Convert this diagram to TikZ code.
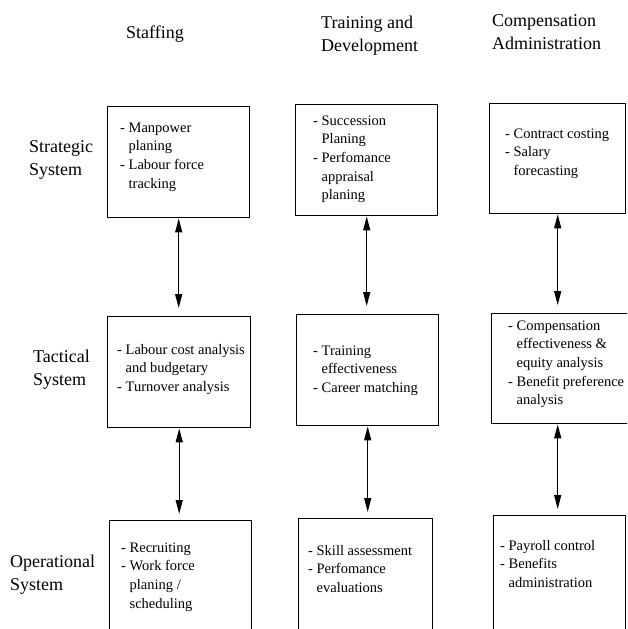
\documentclass[tikz,border=0pt]{standalone}
\usepackage{fontspec}
\setmainfont{Liberation Serif}
\usetikzlibrary{arrows.meta}
\newcommand{\txtlines}[1]{\vtop{\halign{##\hfil\cr #1\crcr}}}
\newcommand{\ind}{\hphantom{- }}
\begin{document}
\begin{tikzpicture}[x=1pt,y=-1pt,
  box/.style={draw, line width=1.4pt, inner sep=0, anchor=north west},
  hdr/.style={font=\fontsize{18}{23.5}\selectfont, anchor=base west, inner sep=0},
  item/.style={font=\fontsize{14.5}{18.7}\selectfont, anchor=base west, inner sep=0},
  link/.style={line width=1.3pt, {Triangle[length=14pt,width=7pt]}-{Triangle[length=14pt,width=7pt]}}]
\useasboundingbox (0,0) rectangle (627,629);
\clip (0,0) rectangle (627,629);

% column headers
\node[hdr] (h1) at (126,38) {Staffing};
\node[hdr] (h2) at (321,28) {\txtlines{Training and\cr Development}};
\node[hdr] (h3) at (492,26) {\txtlines{Compensation\cr Administration}};

% row labels
\node[hdr] (r1) at (29,152) {\txtlines{Strategic\cr System}};
\node[hdr] (r2) at (33,362) {\txtlines{Tactical\cr System}};
\node[hdr] (r3) at (10,567) {\txtlines{Operational\cr System}};

% boxes
\node[box, minimum width=142pt, minimum height=111pt] (s1) at (107,106) {};
\node[box, minimum width=142pt, minimum height=111pt] (s2) at (295,104) {};
\node[box, minimum width=136pt, minimum height=110pt] (s3) at (489,103) {};
\node[box, minimum width=143pt, minimum height=111pt] (t1) at (107,316) {};
\node[box, minimum width=142pt, minimum height=111pt] (t2) at (296,314) {};
\node[box, minimum width=141pt, minimum height=110pt] (t3) at (491,313) {};
\node[box, minimum width=142pt, minimum height=130pt] (o1) at (109,520) {};
\node[box, minimum width=134pt, minimum height=130pt] (o2) at (298,518) {};
\node[box, minimum width=132pt, minimum height=130pt] (o3) at (493,515) {};

% box texts
\node[item] (ts1) at (120,132) {\txtlines{- Manpower\cr\ind planing\cr- Labour force\cr\ind tracking}};
\node[item] (ts2) at (313,125) {\txtlines{- Succession\cr\ind Planing\cr- Perfomance\cr\ind appraisal\cr\ind planing}};
\node[item] (ts3) at (505,138) {\txtlines{- Contract costing\cr- Salary\cr\ind forecasting}};
\node[item] (tt1) at (117,354) {\txtlines{- Labour cost analysis\cr\ind and budgetary\cr- Turnover analysis}};
\node[item] (tt2) at (313,355) {\txtlines{- Training\cr\ind effectiveness\cr- Career matching}};
\node[item] (tt3) at (508,330) {\txtlines{- Compensation\cr\ind effectiveness \&\cr\ind equity analysis\cr- Benefit preference\cr\ind analysis}};
\node[item] (to1) at (121,552) {\txtlines{- Recruiting\cr- Work force\cr\ind planing /\cr\ind scheduling}};
\node[item] (to2) at (308,555) {\txtlines{- Skill assessment\cr- Perfomance\cr\ind evaluations}};
\node[item] (to3) at (500,550) {\txtlines{- Payroll control\cr- Benefits\cr\ind administration}};

% connectors
\draw[link] (s1.south) -- ([yshift=8pt]s1.south |- t1.north);
\draw[link] (s2.south) -- ([yshift=8pt]s2.south |- t2.north);
\draw[link] (s3.south) -- ([yshift=8pt]s3.south |- t3.north);
\draw[link] (t1.south) -- ([yshift=6pt]t1.south |- o1.north);
\draw[link] (t2.south) -- ([yshift=6pt]t2.south |- o2.north);
\draw[link] (s3.south |- t3.south) -- ([yshift=6pt]s3.south |- o3.north);
\end{tikzpicture}
\end{document}
